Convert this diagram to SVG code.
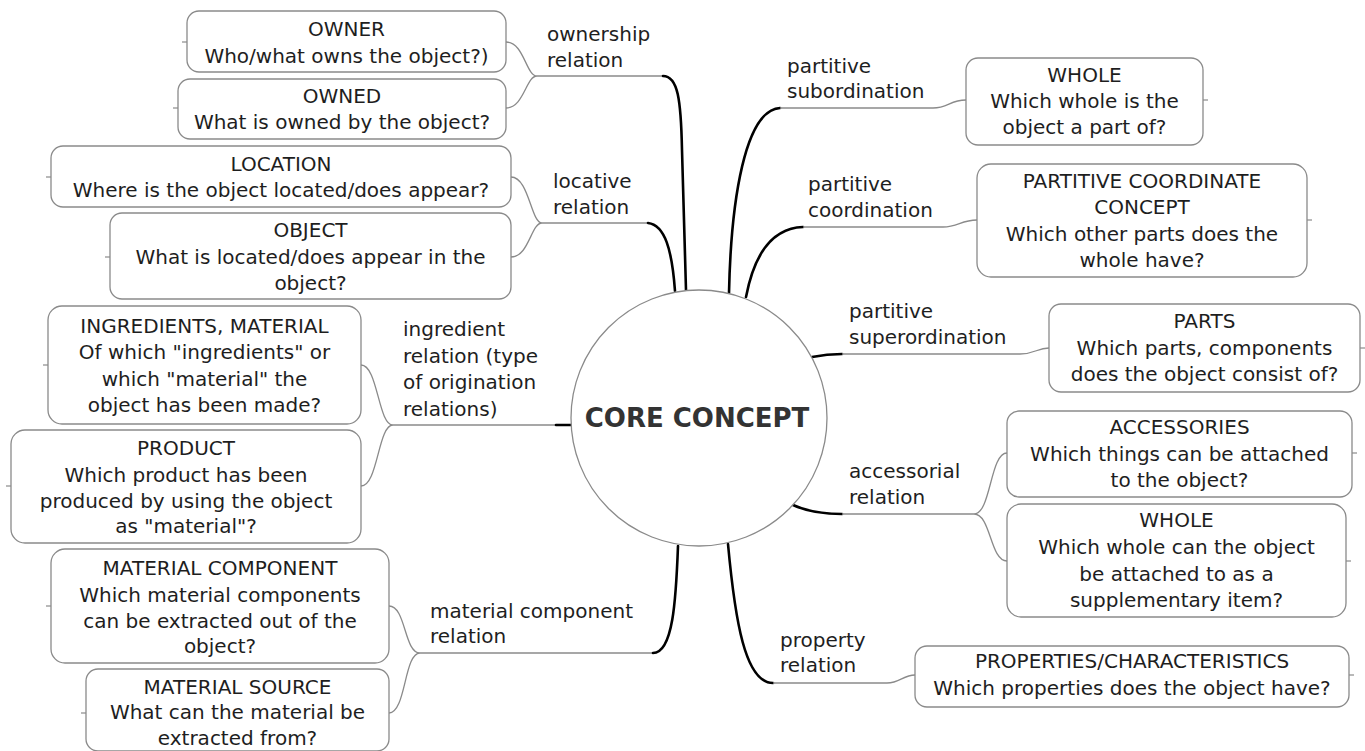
<svg xmlns="http://www.w3.org/2000/svg" width="1365" height="751" viewBox="0 0 1365 751">
<style>
.box{fill:#fff;stroke:#8a8a8a;stroke-width:1.3}
.t{font-family:"DejaVu Sans",Verdana,sans-serif;font-size:20px;fill:#1e1e1e;text-anchor:middle}
.l{font-family:"DejaVu Sans",Verdana,sans-serif;font-size:20px;fill:#1e1e1e}
.thin{fill:none;stroke:#8a8a8a;stroke-width:1.3}
.thick{fill:none;stroke:#000;stroke-width:2.6;stroke-linecap:round}
.tick{fill:none;stroke:#8a8a8a;stroke-width:1.2}
.core{font-family:"DejaVu Sans",Verdana,sans-serif;font-size:26px;font-weight:bold;fill:#333;text-anchor:middle}
</style>
<rect width="1365" height="751" fill="#fff"/>
<g id="connectors">
<!-- ownership -->
<path class="thin" d="M506,42 C524,42 526,76 537,76 M506,108 C524,108 526,76 537,76 M537,76 H663"/>
<path class="thick" d="M663,76 C678,76 681,100 682,150 L686,290"/>
<!-- locative -->
<path class="thin" d="M511,177 C529,177 531,223 542,223 M511,257 C529,257 531,223 542,223 M542,223 H648"/>
<path class="thick" d="M648,223 C665,225 672,250 675,291"/>
<!-- ingredient -->
<path class="thin" d="M393,425 C378,425 378,365 361,365 M393,425 C378,425 378,486 361,486 M393,425 H558"/>
<path class="thick" d="M556,425 H571"/>
<!-- material component -->
<path class="thin" d="M420,653 C404,653 406,606 389,606 M420,653 C404,653 406,713 389,713 M420,653 H653"/>
<path class="thick" d="M678,546 C676,600 673,653 653,653"/>
<!-- partitive subordination -->
<path class="thick" d="M729,293 C731,200 745,110 780,108"/>
<path class="thin" d="M780,108 H933 C948,108 950,100 966,100"/>
<!-- partitive coordination -->
<path class="thick" d="M746,297 C755,250 775,228 803,227"/>
<path class="thin" d="M803,227 H943 C958,227 961,220 977,220"/>
<!-- partitive superordination -->
<path class="thick" d="M812,357 C822,355 830,354 842,354"/>
<path class="thin" d="M842,354 H1020 C1035,354 1037,348 1049,348"/>
<!-- accessorial -->
<path class="thick" d="M793,505 C808,512 825,514 842,514"/>
<path class="thin" d="M842,514 H974 M974,514 C991,514 990,453 1007,453 M974,514 C991,514 990,561 1007,561"/>
<!-- property -->
<path class="thick" d="M728,544 C735,620 745,683 773,683"/>
<path class="thin" d="M773,683 H887 C900,683 903,675 915,675"/>
</g>
<g id="core">
<circle cx="699" cy="418" r="128" fill="#fff" stroke="#8a8a8a" stroke-width="1.3"/>
<text class="core" x="697" y="427">CORE CONCEPT</text>
</g>
<g id="label-ownership"><text class="l" x="547" y="41">ownership</text><text class="l" x="547" y="67">relation</text></g>
<g id="label-locative"><text class="l" x="553" y="188">locative</text><text class="l" x="553" y="214">relation</text></g>
<g id="label-ingredient"><text class="l" x="403" y="336">ingredient</text><text class="l" x="403" y="363">relation (type</text><text class="l" x="403" y="389">of origination</text><text class="l" x="403" y="416">relations)</text></g>
<g id="label-material"><text class="l" x="430" y="618">material component</text><text class="l" x="430" y="643">relation</text></g>
<g id="label-psub"><text class="l" x="787" y="73">partitive</text><text class="l" x="787" y="98">subordination</text></g>
<g id="label-pcoord"><text class="l" x="808" y="191">partitive</text><text class="l" x="808" y="217">coordination</text></g>
<g id="label-psuper"><text class="l" x="849" y="318">partitive</text><text class="l" x="849" y="344">superordination</text></g>
<g id="label-access"><text class="l" x="849" y="478">accessorial</text><text class="l" x="849" y="504">relation</text></g>
<g id="label-property"><text class="l" x="780" y="647">property</text><text class="l" x="780" y="672">relation</text></g>

<g id="owner"><rect class="box" x="187" y="11" width="319" height="61" rx="12"/><path class="tick" d="M182,42 H187"/>
<text class="t" x="346.5" y="36">OWNER</text><text class="t" x="346.5" y="63">Who/what owns the object?)</text></g>
<g id="owned"><rect class="box" x="178" y="79" width="328" height="60" rx="12"/><path class="tick" d="M173,108 H178"/>
<text class="t" x="342" y="103">OWNED</text><text class="t" x="342" y="129">What is owned by the object?</text></g>
<g id="location"><rect class="box" x="51" y="146" width="460" height="61" rx="12"/><path class="tick" d="M46,177 H51"/>
<text class="t" x="281" y="171">LOCATION</text><text class="t" x="281" y="197">Where is the object located/does appear?</text></g>
<g id="object"><rect class="box" x="110" y="213" width="401" height="86" rx="12"/><path class="tick" d="M105,257 H110"/>
<text class="t" x="310.5" y="237">OBJECT</text><text class="t" x="310.5" y="264">What is located/does appear in the</text><text class="t" x="310.5" y="290">object?</text></g>
<g id="ingredients"><rect class="box" x="48" y="306" width="313" height="118" rx="14"/><path class="tick" d="M43,365 H48"/>
<text class="t" x="204.5" y="333">INGREDIENTS, MATERIAL</text><text class="t" x="204.5" y="359">Of which "ingredients" or</text><text class="t" x="204.5" y="386">which "material" the</text><text class="t" x="204.5" y="412">object has been made?</text></g>
<g id="product"><rect class="box" x="11" y="430" width="350" height="113" rx="14"/><path class="tick" d="M6,486 H11"/>
<text class="t" x="186" y="455">PRODUCT</text><text class="t" x="186" y="482">Which product has been</text><text class="t" x="186" y="508">produced by using the object</text><text class="t" x="186" y="533">as "material"?</text></g>
<g id="material-component"><rect class="box" x="51" y="549" width="338" height="114" rx="14"/><path class="tick" d="M46,606 H51"/>
<text class="t" x="220" y="575">MATERIAL COMPONENT</text><text class="t" x="220" y="602">Which material components</text><text class="t" x="220" y="628">can be extracted out of the</text><text class="t" x="220" y="653">object?</text></g>
<g id="material-source"><rect class="box" x="86" y="669" width="303" height="82" rx="12"/><path class="tick" d="M81,713 H86"/>
<text class="t" x="237.5" y="694">MATERIAL SOURCE</text><text class="t" x="237.5" y="719">What can the material be</text><text class="t" x="237.5" y="745">extracted from?</text></g>

<g id="whole"><rect class="box" x="966" y="58" width="237" height="87" rx="12"/><path class="tick" d="M1203,100 H1208"/>
<text class="t" x="1084.5" y="82">WHOLE</text><text class="t" x="1084.5" y="108">Which whole is the</text><text class="t" x="1084.5" y="134">object a part of?</text></g>
<g id="partitive-coordinate"><rect class="box" x="977" y="164" width="330" height="113" rx="14"/><path class="tick" d="M1307,220 H1312"/>
<text class="t" x="1142" y="188">PARTITIVE COORDINATE</text><text class="t" x="1142" y="214">CONCEPT</text><text class="t" x="1142" y="241">Which other parts does the</text><text class="t" x="1142" y="267">whole have?</text></g>
<g id="parts"><rect class="box" x="1049" y="304" width="311" height="88" rx="12"/><path class="tick" d="M1360,348 H1365"/>
<text class="t" x="1204.5" y="328">PARTS</text><text class="t" x="1204.5" y="355">Which parts, components</text><text class="t" x="1204.5" y="381">does the object consist of?</text></g>
<g id="accessories"><rect class="box" x="1007" y="411" width="345" height="86" rx="12"/><path class="tick" d="M1352,453 H1357"/>
<text class="t" x="1179.5" y="434">ACCESSORIES</text><text class="t" x="1179.5" y="461">Which things can be attached</text><text class="t" x="1179.5" y="487">to the object?</text></g>
<g id="whole-2"><rect class="box" x="1007" y="504" width="339" height="113" rx="14"/><path class="tick" d="M1346,561 H1351"/>
<text class="t" x="1176.5" y="527">WHOLE</text><text class="t" x="1176.5" y="554">Which whole can the object</text><text class="t" x="1176.5" y="581">be attached to as a</text><text class="t" x="1176.5" y="607">supplementary item?</text></g>
<g id="properties"><rect class="box" x="915" y="646" width="434" height="61" rx="12"/><path class="tick" d="M1349,675 H1354"/>
<text class="t" x="1132" y="668">PROPERTIES/CHARACTERISTICS</text><text class="t" x="1132" y="695">Which properties does the object have?</text></g>
</svg>
